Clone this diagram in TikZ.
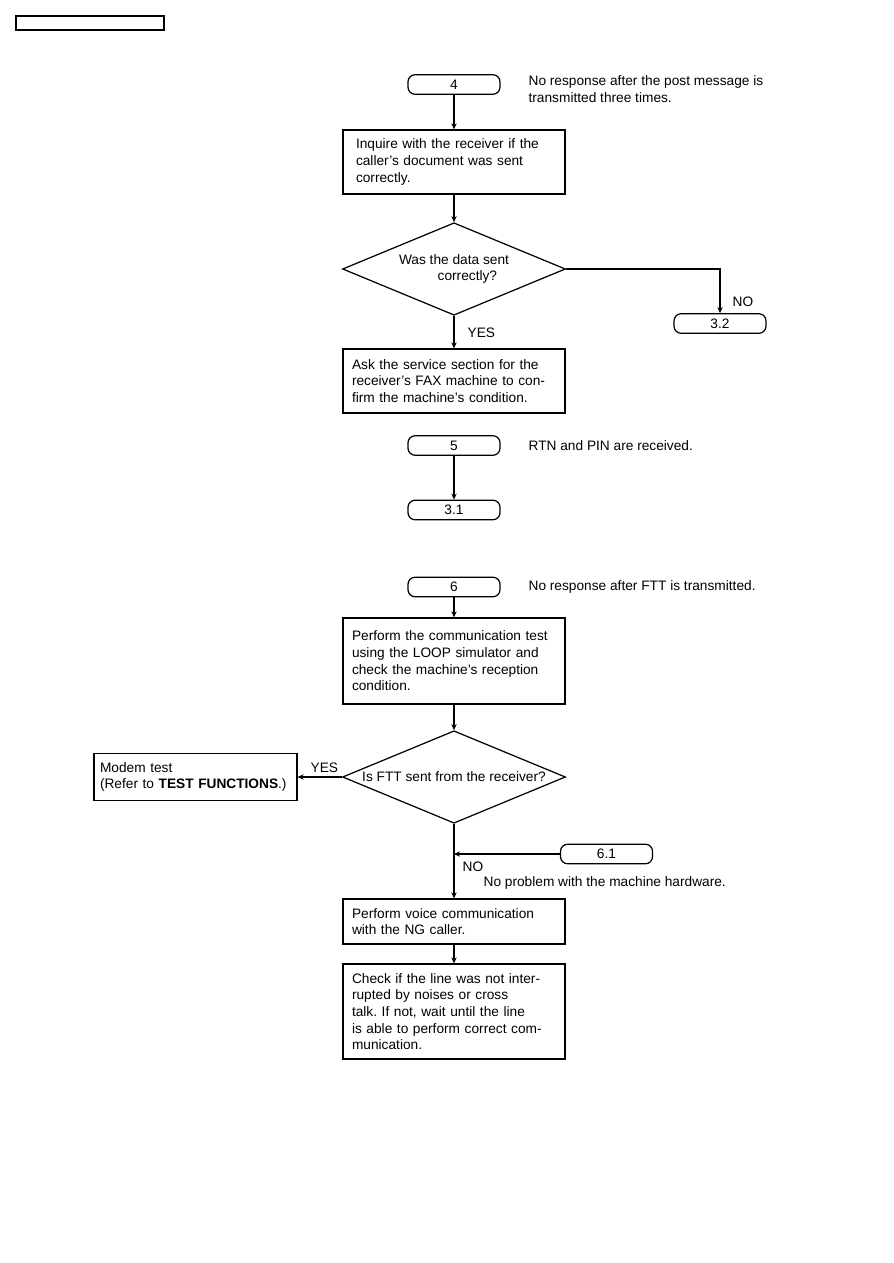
\documentclass[tikz,border=0pt]{standalone}
\usepackage{fontspec}
\setmainfont{Liberation Sans}
\usetikzlibrary{arrows.meta,positioning,shapes.geometric}
\frenchspacing

\begin{document}
\begin{tikzpicture}[x=0.02cm,y=-0.02cm,
  font=\fontsize{7.8}{9.45}\selectfont, line width=0.7pt,
  term/.style={draw,rounded corners=4pt,minimum width=1.84cm,minimum height=0.39cm,inner sep=0pt},
  proc/.style={draw,align=left,text width=4.08cm,inner xsep=0.18cm,inner ysep=0pt},
  dec/.style={draw,diamond,aspect=2.4,align=left,inner sep=0pt,minimum width=4.46cm,minimum height=1.85cm},
  note/.style={anchor=west,align=left,inner sep=0pt},
  arr/.style={-{Stealth[length=3.4pt,width=3pt]}}
]
  \useasboundingbox (0,0) rectangle (893,1263);
  % page header box
  \node[draw,line width=0.6pt,minimum width=2.96cm,minimum height=0.28cm,inner sep=0pt] (hdr) at (90,23) {};

  % flow 4
  \node[term] (t4) at (454,84.5) {4};
  \node[note] (n4) at (528,89) {No response after the post message is\\transmitted three times.};
  \node[proc,minimum height=1.28cm,inner xsep=0.26cm,text width=3.92cm] (inq) at (454,162)
    {Inquire with the receiver if the\\caller's document was sent\\correctly.};
  \node[dec] (d1) at (454,269) {Was the data sent\\\hspace*{22pt}correctly?};
  \node[term] (t32) at (720,323.5) {3.2};
  \node[note] (no1) at (732,302) {NO};
  \node[note] (yes1) at (467,333) {YES};
  \node[proc,minimum height=1.28cm] (ask) at (454,381)
    {Ask the service section for the\\receiver's FAX machine to con-\\firm the machine's condition.};
  \draw[arr] (t4) -- (inq);
  \draw[arr] (inq) -- (d1);
  \draw[arr] (d1.east) -| (t32.north);
  \draw[arr] (d1) -- (ask);

  % flow 5
  \node[term] (t5) at (454,445.5) {5};
  \node[note] (n5) at (528,446) {RTN and PIN are received.};
  \node[term] (t31) at (454,510) {3.1};
  \draw[arr] (t5) -- (t31);

  % flow 6
  \node[term] (t6) at (454,587) {6};
  \node[note] (n6) at (528,587) {No response after FTT is transmitted.};
  \node[proc,minimum height=1.72cm] (perf) at (454,661)
    {Perform the communication test\\using the LOOP simulator and\\check the machine's reception\\condition.};
  \node[dec] (d2) at (454,777) {Is FTT sent from the receiver?};
  \node[proc,text width=3.82cm,inner xsep=0.12cm,minimum height=0.94cm] (modem) at (195.5,777)
    {Modem test\\\mbox{(Refer to \textbf{TEST FUNCTIONS}.)}};
  \node[note] (yes2) at (310,768) {YES};
  \node[term] (t61) at (606.5,854) {6.1};
  \coordinate (j61) at (d2.south |- t61.west);
  \node[note] (no2) at (462,867) {NO};
  \node[note] (n61) at (483,883) {No problem with the machine hardware.};
  \node[proc,minimum height=0.9cm] (voice) at (454,921.5)
    {Perform voice communication\\with the NG caller.};
  \node[proc,minimum height=1.9cm] (check) at (454,1011.5)
    {Check if the line was not inter-\\rupted by noises or cross\\talk. If not, wait until the line\\is able to perform correct com-\\munication.};
  \draw[arr] (t6) -- (perf);
  \draw[arr] (perf) -- (d2);
  \draw[arr] (d2) -- (modem);
  \draw[arr] (t61) -- (j61);
  \draw[arr] (d2) -- (voice);
  \draw[arr] (voice) -- (check);
\end{tikzpicture}
\end{document}
